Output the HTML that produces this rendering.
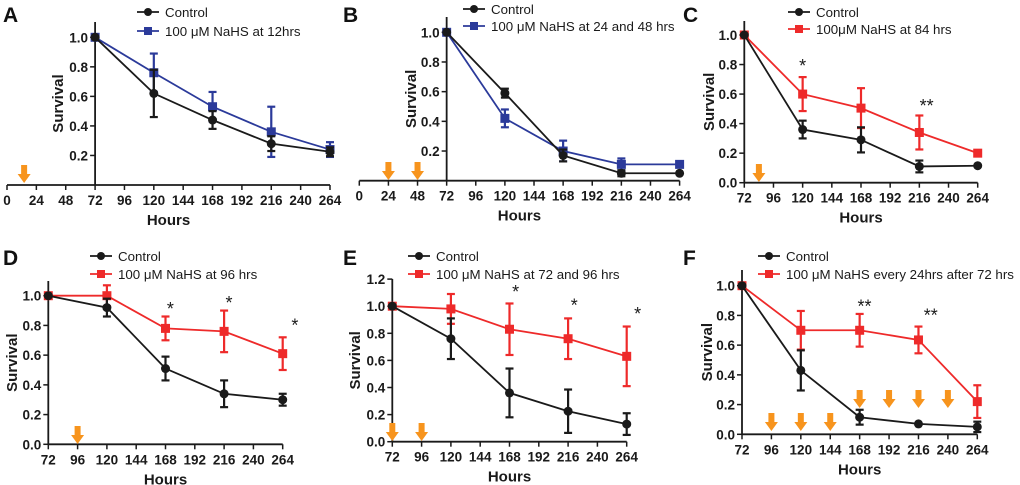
<!DOCTYPE html>
<html><head><meta charset="utf-8"><style>
body{margin:0;background:#fff;}
svg{display:block;font-family:"Liberation Sans",Arial,sans-serif;}
.tk{font-size:13.5px;font-weight:bold;fill:#1a1a1a;}
.lg{font-size:13.3px;fill:#1a1a1a;}
.ax{font-size:15px;font-weight:bold;fill:#1a1a1a;}
.pl{font-size:21px;font-weight:bold;fill:#111;}
</style></head><body>
<svg id="fig" width="1020" height="485" viewBox="0 0 1020 485"></svg>
<script>
const hours = [72,120,168,216,264];
const ctrlA=[1,0.62,0.44,0.28,0.225], ctrlAErr=[0,0.16,0.06,0.05,0.03];
const trtA=[1,0.76,0.53,0.36,0.24], trtAErr=[0,0.13,0.1,0.17,0.05];
const ctrlB=[1,0.59,0.17,0.05,0.05], ctrlBErr=[0,0.03,0.04,0.02,0];
const trtB=[1,0.42,0.20,0.11,0.11], trtBErr=[0,0.06,0.07,0.04,0.02];
const ctrlC=[1,0.36,0.29,0.11,0.115], ctrlCErr=[0,0.06,0.085,0.04,0];
const trtC=[1,0.60,0.505,0.34,0.20], trtCErr=[0,0.115,0.135,0.115,0.02];
const ctrlD=[1,0.92,0.51,0.34,0.30], ctrlDErr=[0,0.06,0.08,0.09,0.04];
const trtD=[1,1.0,0.78,0.76,0.61], trtDErr=[0,0.07,0.08,0.14,0.11];
const ctrlE=[1,0.76,0.36,0.225,0.13], ctrlEErr=[0,0.15,0.18,0.16,0.08];
const trtE=[1,0.98,0.83,0.76,0.63], trtEErr=[0,0.11,0.19,0.15,0.22];
const ctrlF=[1,0.43,0.115,0.07,0.05], ctrlFErr=[0,0.135,0.05,0,0.035];
const trtF=[1,0.70,0.70,0.635,0.22], trtFErr=[0,0.13,0.11,0.09,0.11];
const xTicksFull=[0,24,48,72,96,120,144,168,192,216,240,264];
const xTicksShort=[72,96,120,144,168,192,216,240,264];
const yTicks1=[0.2,0.4,0.6,0.8,1.0];
const yTicks0=[0,0.2,0.4,0.6,0.8,1.0];
const yTicks12=[0,0.2,0.4,0.6,0.8,1.0,1.2];

const NS='http://www.w3.org/2000/svg';
const svg=document.getElementById('fig');
function mk(tag,attrs,parent,name,txt){const e=document.createElementNS(NS,tag);for(const k in attrs)e.setAttribute(k,attrs[k]);


if(txt!==undefined)e.textContent=txt;(parent||svg).appendChild(e);return e;}
const BLK='#1a1a1a',BLU='#2b3a9a',RED='#ee2a2a',ORG='#f7941d';
function fmt(v){return v.toFixed(1);}
function panel(p){
  const g=mk('g',{},svg,'panel-'+p.id.toLowerCase());
  const X=v=>p.px0+(v-p.xmin)/(264-p.xmin)*(p.px1-p.px0);
  const Y=v=>p.y0-v*(p.y0-p.y1);
  const ax=X(72);
  mk('text',{x:p.lx,y:p.ly,class:'pl'},g,'panel-label',p.id);
  mk('line',{x1:X(p.xmin),x2:p.px1,y1:p.y0,y2:p.y0,stroke:BLK,'stroke-width':1.8},g,'x-axis');
  mk('line',{x1:ax,x2:ax,y1:p.top,y2:p.y0,stroke:BLK,'stroke-width':1.8},g,'y-axis');
  p.xt.forEach(t=>{mk('line',{x1:X(t),x2:X(t),y1:p.y0,y2:p.y0+5,stroke:BLK,'stroke-width':1.5},g,'x-tick');
    mk('text',{x:X(t),y:p.y0+20,class:'tk','text-anchor':'middle'},g,'x-tick-label',String(t));});
  p.yt.forEach(t=>{mk('line',{x1:ax-5,x2:ax,y1:Y(t),y2:Y(t),stroke:BLK,'stroke-width':1.5},g,'y-tick');
    mk('text',{x:ax-7,y:Y(t)+5,class:'tk','text-anchor':'end'},g,'y-tick-label',fmt(t));});
  mk('text',{x:(X(p.xmin)+p.px1)/2,y:p.y0+40,class:'ax','text-anchor':'middle'},g,'x-axis-title','Hours');
  mk('text',{x:p.sx,y:(p.top+p.y0)/2,class:'ax','text-anchor':'middle',transform:`rotate(-90 ${p.sx} ${(p.top+p.y0)/2})`},g,'y-axis-title','Survival');
  p.arrows.forEach(a=>{const x=X(a[0]),tip=a[1];
    mk('path',{d:`M${x-3},${tip-18} L${x+3},${tip-18} L${x+3},${tip-9} L${x+6.5},${tip-9} L${x},${tip} L${x-6.5},${tip-9} L${x-3},${tip-9} Z`,fill:ORG},g,'treatment-arrow');});
  function series(vals,errs,col,sq,nm){
    const pts=hours.map((h,i)=>X(h)+','+Y(vals[i])).join(' ');
    mk('polyline',{points:pts,fill:'none',stroke:col,'stroke-width':1.8},g,nm+'-line');
    hours.forEach((h,i)=>{const x=X(h);if(errs[i]>0){
      mk('line',{x1:x,x2:x,y1:Y(vals[i]-errs[i]),y2:Y(vals[i]+errs[i]),stroke:col,'stroke-width':2.2},g,nm+'-error-bar');
      [vals[i]-errs[i],vals[i]+errs[i]].forEach(v=>mk('line',{x1:x-4,x2:x+4,y1:Y(v),y2:Y(v),stroke:col,'stroke-width':2.2},g,nm+'-error-cap'));}
      if(sq)mk('rect',{x:x-4.5,y:Y(vals[i])-4.5,width:9,height:9,fill:col},g,nm+'-point');
      else mk('circle',{cx:x,cy:Y(vals[i]),r:4.5,fill:col},g,nm+'-point');});
  }
  series(p.t,p.te,p.col,true,'treatment');
  series(p.c,p.ce,BLK,false,'control');
  p.stars.forEach(s=>mk('text',{x:X(s[0]),y:Y(s[1]),'font-size':18,fill:BLK,'text-anchor':'middle'},g,'significance-star',s[2]));
  mk('line',{x1:p.gx,x2:p.gx+22,y1:p.gy,y2:p.gy,stroke:BLK,'stroke-width':1.8},g,'legend-control-line');
  mk('circle',{cx:p.gx+11,cy:p.gy,r:4,fill:BLK},g,'legend-control-marker');
  mk('text',{x:p.gx+28,y:p.gy+5,class:'lg'},g,'legend-control-label','Control');
  mk('line',{x1:p.gx,x2:p.gx+22,y1:p.gy+p.gd,y2:p.gy+p.gd,stroke:p.col,'stroke-width':1.8},g,'legend-treatment-line');
  mk('rect',{x:p.gx+7,y:p.gy+p.gd-4,width:8,height:8,fill:p.col},g,'legend-treatment-marker');
  mk('text',{x:p.gx+28,y:p.gy+p.gd+5,class:'lg'},g,'legend-treatment-label',p.lab);
}
panel({id:'A',lx:3,ly:22,xmin:0,px0:7,px1:330,y0:185,y1:37.3,top:22,xt:xTicksFull,yt:yTicks1,sx:63,
  c:ctrlA,ce:ctrlAErr,t:trtA,te:trtAErr,col:BLU,arrows:[[14,183]],stars:[],gx:137,gy:12,gd:19,lab:'100 μM NaHS at 12hrs'});
panel({id:'B',lx:343,ly:22,xmin:0,px0:359.3,px1:679.6,y0:180.7,y1:32.3,top:17,xt:xTicksFull,yt:yTicks1,sx:416,
  c:ctrlB,ce:ctrlBErr,t:trtB,te:trtBErr,col:BLU,arrows:[[24,180],[48,180]],stars:[],gx:463,gy:9,gd:17,lab:'100 μM NaHS at 24 and 48 hrs'});
panel({id:'C',lx:683,ly:22,xmin:72,px0:744.3,px1:977.7,y0:182.7,y1:35,top:21,xt:xTicksShort,yt:yTicks0,sx:714,
  c:ctrlC,ce:ctrlCErr,t:trtC,te:trtCErr,col:RED,arrows:[[84,182]],stars:[[120,0.75,'*'],[222,0.48,'**']],gx:788,gy:12,gd:17,lab:'100μM NaHS at 84 hrs'});
panel({id:'D',lx:3,ly:265,xmin:72,px0:48.3,px1:282.7,y0:444.3,y1:295.7,top:281,xt:xTicksShort,yt:yTicks0,sx:17,
  c:ctrlD,ce:ctrlDErr,t:trtD,te:trtDErr,col:RED,arrows:[[96,444]],stars:[[172,0.87,'*'],[220,0.91,'*'],[274,0.76,'*']],gx:90,gy:256,gd:18,lab:'100 μM NaHS at 96 hrs'});
panel({id:'E',lx:343,ly:265,xmin:72,px0:392.3,px1:626.7,y0:441.7,y1:306.2,top:279,xt:xTicksShort,yt:yTicks12,sx:360,
  c:ctrlE,ce:ctrlEErr,t:trtE,te:trtEErr,col:RED,arrows:[[72,441],[96,441]],stars:[[173,1.06,'*'],[221,0.96,'*'],[273,0.9,'*']],gx:408,gy:256,gd:18,lab:'100 μM NaHS at 72 and 96 hrs'});
panel({id:'F',lx:683,ly:265,xmin:72,px0:742,px1:977.3,y0:434.3,y1:285.7,top:270,xt:xTicksShort,yt:yTicks0,sx:712,
  c:ctrlF,ce:ctrlFErr,t:trtF,te:trtFErr,col:RED,arrows:[[96,431],[120,431],[144,431],[168,408],[192,408],[216,408],[240,408]],
  stars:[[172,0.82,'**'],[226,0.76,'**']],gx:758,gy:256,gd:18,lab:'100 μM NaHS every 24hrs after 72 hrs'});
</script>
</body></html>
